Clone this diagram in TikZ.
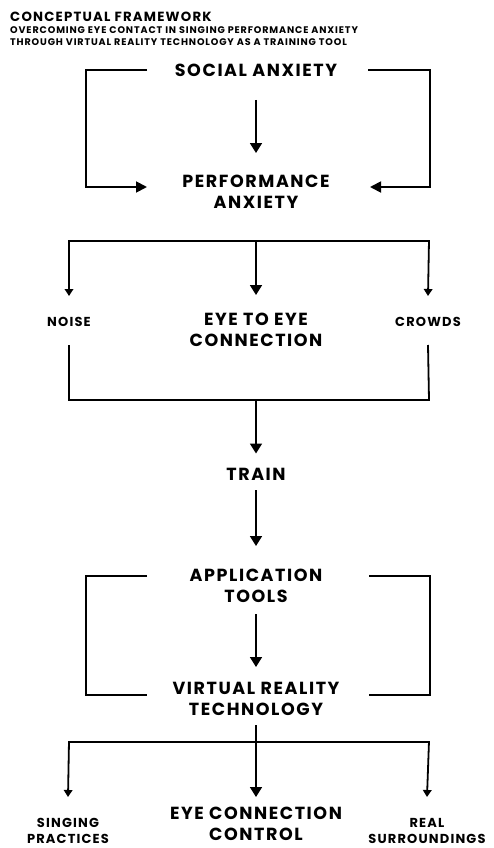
\documentclass[tikz,border=0pt]{standalone}
\usepackage{fontspec}
\setmainfont{Poppins}[BoldFont={Poppins Bold}, LetterSpace=9]
\usetikzlibrary{arrows.meta}
\tikzset{
  lbl/.style={inner sep=0pt, align=center, font=\bfseries\fontsize{17.5}{21}\selectfont},
  sml/.style={inner sep=0pt, align=center, font=\bfseries\fontsize{13}{16}\selectfont},
  conn/.style={line width=1.8pt, line join=miter},
  big/.style={conn, -{Triangle[width=12pt,length=10pt]}},
  brk/.style={conn, -{Triangle[width=11pt,length=11pt]}},
  small/.style={conn, -{Triangle[width=8.5pt,length=7pt]}}
}
\begin{document}
\begin{tikzpicture}[x=1pt,y=-1pt]
\useasboundingbox (0,0) rectangle (494,848);
% titles
\node[anchor=west, inner sep=0pt, font=\bfseries\fontsize{13.3}{15}\selectfont] (t1) at (10,16.5) {CONCEPTUAL FRAMEWORK};
\node[anchor=north west, inner sep=0pt, align=left, font=\bfseries\fontsize{9.6}{12}\selectfont] (t2) at (10,26.5) {OVERCOMING EYE CONTACT IN SINGING PERFORMANCE ANXIETY\\THROUGH VIRTUAL REALITY TECHNOLOGY AS A TRAINING TOOL};
% nodes
\node[lbl] (sa) at (256,70.5) {SOCIAL ANXIETY};
\node[lbl] (pa) at (256,192) {PERFORMANCE\\ANXIETY};
\node[sml] (noise) at (69,322) {NOISE};
\node[lbl] (eye) at (256,330) {EYE TO EYE\\CONNECTION};
\node[sml] (crowds) at (428,322) {CROWDS};
\node[lbl] (train) at (256,474) {TRAIN};
\node[lbl] (app) at (256,585.5) {APPLICATION\\TOOLS};
\node[lbl] (vr) at (256,699) {VIRTUAL REALITY\\TECHNOLOGY};
\node[lbl] (ecc) at (256,823.5) {EYE CONNECTION\\CONTROL};
\node[sml] (sing) at (68,831) {SINGING\\PRACTICES};
\node[sml] (real) at (427,831) {REAL\\SURROUNDINGS};
% coordinates
\coordinate (saL) at (147,70);
\coordinate (saR) at (368,70);
\coordinate (paL) at (147,187);
\coordinate (paR) at (370,187);
\coordinate (bTop) at (256,241);
\coordinate (bBot) at (256,400);
\coordinate (appL) at (147,576);
\coordinate (appR) at (369,576);
\coordinate (vrL) at (147,695);
\coordinate (vrR) at (369,695);
\coordinate (vTop) at (256,742);
% social -> performance
\draw[big] (sa) ++(0,29.5) -- ([yshift=39pt]pa.center);
\draw[brk] (saL) -- (86,70) |- (paL);
\draw[brk] (saR) -- (430,70) |- (paR);
% performance branch
\draw[conn] (69,241) -- (429,241);
\draw[small] (69,240.1) -- ([yshift=26pt]noise.center);
\draw[small] (429,240.1) -- ([yshift=26pt]crowds.center);
\draw[big] (bTop) -- ([yshift=35pt]eye.center);
% join to train
\draw[conn] ([yshift=-23pt]noise.center) -- (69,400) -- (429,400) -- ([yshift=-23pt]crowds.center);
\draw[big] (bBot) -- ([yshift=20.5pt]train.center);
\draw[big] ([yshift=-16pt]train.center) -- ([yshift=39.5pt]app.center);
% application bracket
\draw[conn] (appL) -- (86,576) |- (vrL);
\draw[conn] (appR) -- (430,576) |- (vrR);
\draw[big] ([yshift=-28.5pt]app.center) -- ([yshift=32pt]vr.center);
% vr branch
\draw[big] ([yshift=-26pt]vr.center) -- ([yshift=26.5pt]ecc.center);
\draw[conn] (69,742) -- (429,742);
\draw[small] (69,741.1) -- ([yshift=34pt]sing.center);
\draw[small] (429,741.1) -- ([yshift=34pt]real.center);
\end{tikzpicture}
\end{document}
